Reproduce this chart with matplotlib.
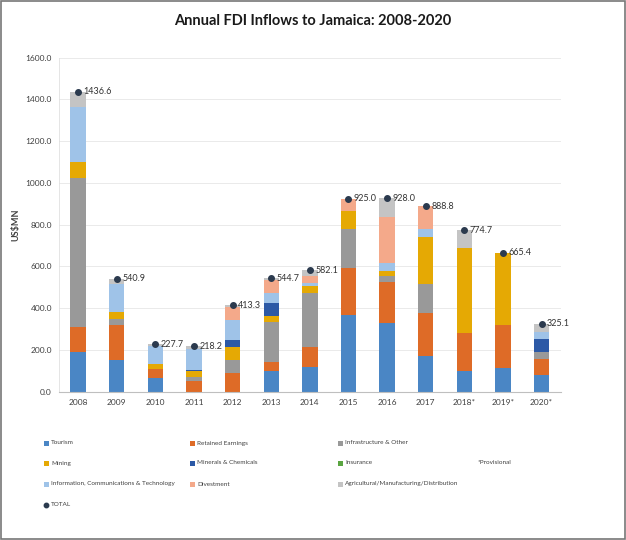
import matplotlib
matplotlib.use("Agg")
import matplotlib.pyplot as plt
import numpy as np
from matplotlib.patches import Rectangle
from matplotlib.lines import Line2D

years = ["2008", "2009", "2010", "2011", "2012", "2013", "2014", "2015",
         "2016", "2017", "2018*", "2019*", "2020*"]

tourism     = [192, 152, 68, 0, 0, 99, 120, 366, 331, 171, 98, 115, 81]
retained    = [119, 166, 42, 50, 88, 45, 93, 227, 196, 205, 185, 203, 74]
infra       = [714, 29, 0, 22, 64, 191, 258, 187, 27, 140, 0, 0, 34]
mining      = [77, 33, 22, 26, 61, 28, 35, 84, 24, 224, 404, 347.4, 0]
minerals    = [0, 0, 0, 6, 35, 60, 0, 0, 0, 0, 0, 0, 62]
insurance   = [0, 0, 0, 0, 0, 0, 0, 0, 0, 0, 0, 0, 0]
ict         = [260, 136, 88, 99, 95, 48, 16, 0, 37, 39, 0, 0, 35]
divest      = [0, 0, 0, 0, 64, 64, 32, 61, 223, 109.8, 0, 0, 0]
agric       = [74.6, 24.9, 7.7, 15.2, 6.3, 9.7, 28.1, 0, 90, 0, 87.7, 0, 39.1]
totals      = [1436.6, 540.9, 227.7, 218.2, 413.3, 544.7, 582.1, 925.0,
               928.0, 888.8, 774.7, 665.4, 325.1]

series = [
    ("Tourism", tourism, "#4a86c5"),
    ("Retained Earnings", retained, "#de6b27"),
    ("Infrastructure & Other", infra, "#999999"),
    ("Mining", mining, "#e5a904"),
    ("Minerals & Chemicals", minerals, "#2c59a6"),
    ("Insurance", insurance, "#5aa541"),
    ("Information, Communications & Technology", ict, "#9fc3e8"),
    ("Divestment", divest, "#f4a98a"),
    ("Agricultural/Manufacturing/Distribution", agric, "#c4c4c4"),
]

plt.rcParams['font.family'] = ['Lato', 'DejaVu Sans']

fig = plt.figure(figsize=(6.26, 5.40), dpi=100)
ax = fig.add_axes([0.094, 0.2746, 0.802, 0.6185])

x = np.arange(len(years))
bottom = np.zeros(len(years))
handles = []
for name, vals, col in series:
    v = np.array(vals, dtype=float)
    ax.bar(x, v, width=0.4, bottom=bottom, color=col, linewidth=0)
    bottom += v
    handles.append((name, col))

ax.plot(x, totals, 'o', color="#2b3a4e", markersize=4, zorder=5)
for xi, t in zip(x, totals):
    ax.text(xi + 0.14, t, f"{t:.1f}", fontsize=6.5, va='center', ha='left', color="#333333", zorder=6)

ax.set_xlim(-0.5, len(years) - 0.5)
ax.set_ylim(0, 1600)
ax.set_yticks(np.arange(0, 1601, 200))
ax.set_yticklabels([f"{v:.1f}" for v in np.arange(0, 1601, 200)], fontsize=6, color="#404040")
ax.set_xticks(x)
ax.set_xticklabels(years, fontsize=6, color="#404040")
ax.tick_params(axis='both', length=0, pad=5)
ax.yaxis.grid(True, color="#e6e6e6", linewidth=0.6)
ax.set_axisbelow(True)
for s in ['top', 'right']:
    ax.spines[s].set_visible(False)
ax.spines['left'].set_color("#e0e0e0")
ax.spines['left'].set_linewidth(0.6)
ax.spines['bottom'].set_color("#bfbfbf")
ax.spines['bottom'].set_linewidth(0.8)
ax.set_ylabel("US$MN", fontsize=6.5, fontweight='bold', color="#404040")
ax.yaxis.set_label_coords(-0.077, 0.5)

fig.text(0.5, 0.962, "Annual FDI Inflows to Jamaica: 2008-2020", ha='center', va='center',
         fontsize=10.5, fontweight='bold', color="#1a1a1a")

# legend
col_x = [44, 190, 338]
row_y = [443, 463, 484, 505]
W, H = 626.0, 540.0
for i, (name, col) in enumerate(handles):
    r, c = divmod(i, 3)
    fx = col_x[c] / W
    fy = 1 - row_y[r] / H
    fig.patches.append(Rectangle((fx, fy - 2.5 / H), 4.5 / W, 5 / H, transform=fig.transFigure,
                                 facecolor=col, edgecolor='none'))
    fig.text(fx + 7 / W, fy, name, fontsize=4.6, va='center', ha='left', color="#404040")
fig.lines.append(Line2D([(col_x[0] + 2.5) / W], [1 - row_y[3] / H], marker='o', markersize=3.2,
                        color="#2b3a4e", linestyle='none', transform=fig.transFigure))
fig.text((col_x[0] + 7) / W, 1 - row_y[3] / H, "TOTAL", fontsize=4.6, va='center', ha='left', color="#404040")
fig.text(478 / W, 1 - 462 / H, "*Provisional", fontsize=4.6, va='center', ha='left', color="#404040")

# border
fig.patches.append(Rectangle((0.0015, 0.002), 0.997, 0.996, transform=fig.transFigure,
                             facecolor='none', edgecolor="#777777", linewidth=1.2))

fig.savefig("out.png", dpi=100)
